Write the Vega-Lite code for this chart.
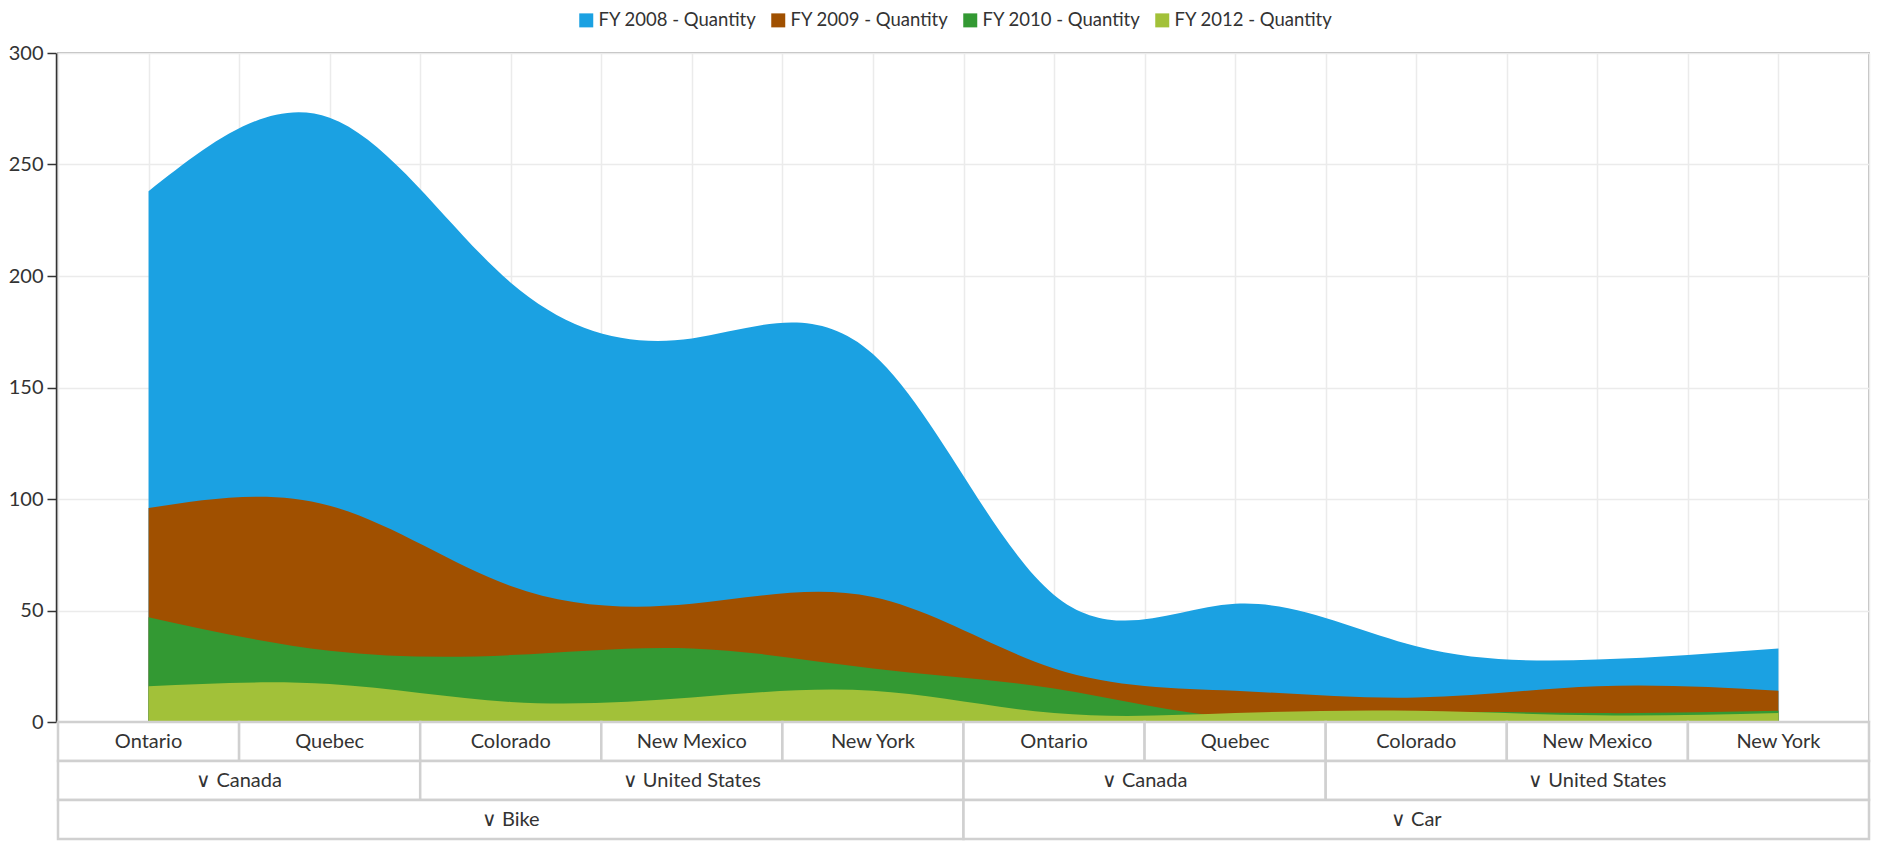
{
  "$schema": "https://vega.github.io/schema/vega-lite/v6.json",
  "padding": {"left": 7, "top": 11, "right": 13, "bottom": 10},
  "background": "white",
  "bounds": "flush",
  "config": {
    "font": "Lato",
    "view": {"stroke": "#bdbdbd", "strokeWidth": 2},
    "concat": {"spacing": 0}
  },
  "datasets": {
    "sales": [
      {"i": 0, "product": "Bike", "country": "Canada", "state": "Ontario", "series": "FY 2008 - Quantity", "qty": 238},
      {"i": 1, "product": "Bike", "country": "Canada", "state": "Quebec", "series": "FY 2008 - Quantity", "qty": 271},
      {"i": 2, "product": "Bike", "country": "United States", "state": "Colorado", "series": "FY 2008 - Quantity", "qty": 197},
      {"i": 3, "product": "Bike", "country": "United States", "state": "New Mexico", "series": "FY 2008 - Quantity", "qty": 172},
      {"i": 4, "product": "Bike", "country": "United States", "state": "New York", "series": "FY 2008 - Quantity", "qty": 165},
      {"i": 5, "product": "Car", "country": "Canada", "state": "Ontario", "series": "FY 2008 - Quantity", "qty": 57},
      {"i": 6, "product": "Car", "country": "Canada", "state": "Quebec", "series": "FY 2008 - Quantity", "qty": 53},
      {"i": 7, "product": "Car", "country": "United States", "state": "Colorado", "series": "FY 2008 - Quantity", "qty": 34},
      {"i": 8, "product": "Car", "country": "United States", "state": "New Mexico", "series": "FY 2008 - Quantity", "qty": 28},
      {"i": 9, "product": "Car", "country": "United States", "state": "New York", "series": "FY 2008 - Quantity", "qty": 33},
      {"i": 0, "product": "Bike", "country": "Canada", "state": "Ontario", "series": "FY 2009 - Quantity", "qty": 96},
      {"i": 1, "product": "Bike", "country": "Canada", "state": "Quebec", "series": "FY 2009 - Quantity", "qty": 97},
      {"i": 2, "product": "Bike", "country": "United States", "state": "Colorado", "series": "FY 2009 - Quantity", "qty": 61},
      {"i": 3, "product": "Bike", "country": "United States", "state": "New Mexico", "series": "FY 2009 - Quantity", "qty": 53},
      {"i": 4, "product": "Bike", "country": "United States", "state": "New York", "series": "FY 2009 - Quantity", "qty": 56},
      {"i": 5, "product": "Car", "country": "Canada", "state": "Ontario", "series": "FY 2009 - Quantity", "qty": 24},
      {"i": 6, "product": "Car", "country": "Canada", "state": "Quebec", "series": "FY 2009 - Quantity", "qty": 14},
      {"i": 7, "product": "Car", "country": "United States", "state": "Colorado", "series": "FY 2009 - Quantity", "qty": 11},
      {"i": 8, "product": "Car", "country": "United States", "state": "New Mexico", "series": "FY 2009 - Quantity", "qty": 16},
      {"i": 9, "product": "Car", "country": "United States", "state": "New York", "series": "FY 2009 - Quantity", "qty": 14},
      {"i": 0, "product": "Bike", "country": "Canada", "state": "Ontario", "series": "FY 2010 - Quantity", "qty": 47},
      {"i": 1, "product": "Bike", "country": "Canada", "state": "Quebec", "series": "FY 2010 - Quantity", "qty": 32},
      {"i": 2, "product": "Bike", "country": "United States", "state": "Colorado", "series": "FY 2010 - Quantity", "qty": 30},
      {"i": 3, "product": "Bike", "country": "United States", "state": "New Mexico", "series": "FY 2010 - Quantity", "qty": 33},
      {"i": 4, "product": "Bike", "country": "United States", "state": "New York", "series": "FY 2010 - Quantity", "qty": 24},
      {"i": 5, "product": "Car", "country": "Canada", "state": "Ontario", "series": "FY 2010 - Quantity", "qty": 15},
      {"i": 6, "product": "Car", "country": "Canada", "state": "Quebec", "series": "FY 2010 - Quantity", "qty": 2},
      {"i": 7, "product": "Car", "country": "United States", "state": "Colorado", "series": "FY 2010 - Quantity", "qty": 4},
      {"i": 8, "product": "Car", "country": "United States", "state": "New Mexico", "series": "FY 2010 - Quantity", "qty": 4},
      {"i": 9, "product": "Car", "country": "United States", "state": "New York", "series": "FY 2010 - Quantity", "qty": 5},
      {"i": 0, "product": "Bike", "country": "Canada", "state": "Ontario", "series": "FY 2012 - Quantity", "qty": 16},
      {"i": 1, "product": "Bike", "country": "Canada", "state": "Quebec", "series": "FY 2012 - Quantity", "qty": 17},
      {"i": 2, "product": "Bike", "country": "United States", "state": "Colorado", "series": "FY 2012 - Quantity", "qty": 9},
      {"i": 3, "product": "Bike", "country": "United States", "state": "New Mexico", "series": "FY 2012 - Quantity", "qty": 11},
      {"i": 4, "product": "Bike", "country": "United States", "state": "New York", "series": "FY 2012 - Quantity", "qty": 14},
      {"i": 5, "product": "Car", "country": "Canada", "state": "Ontario", "series": "FY 2012 - Quantity", "qty": 4},
      {"i": 6, "product": "Car", "country": "Canada", "state": "Quebec", "series": "FY 2012 - Quantity", "qty": 4},
      {"i": 7, "product": "Car", "country": "United States", "state": "Colorado", "series": "FY 2012 - Quantity", "qty": 5},
      {"i": 8, "product": "Car", "country": "United States", "state": "New Mexico", "series": "FY 2012 - Quantity", "qty": 3},
      {"i": 9, "product": "Car", "country": "United States", "state": "New York", "series": "FY 2012 - Quantity", "qty": 4}
    ],
    "headers": [
      {"level": 1, "label": "Ontario", "start": -0.5, "end": 0.5},
      {"level": 1, "label": "Quebec", "start": 0.5, "end": 1.5},
      {"level": 1, "label": "Colorado", "start": 1.5, "end": 2.5},
      {"level": 1, "label": "New Mexico", "start": 2.5, "end": 3.5},
      {"level": 1, "label": "New York", "start": 3.5, "end": 4.5},
      {"level": 1, "label": "Ontario", "start": 4.5, "end": 5.5},
      {"level": 1, "label": "Quebec", "start": 5.5, "end": 6.5},
      {"level": 1, "label": "Colorado", "start": 6.5, "end": 7.5},
      {"level": 1, "label": "New Mexico", "start": 7.5, "end": 8.5},
      {"level": 1, "label": "New York", "start": 8.5, "end": 9.5},
      {"level": 2, "label": "Canada", "start": -0.5, "end": 1.5},
      {"level": 2, "label": "United States", "start": 1.5, "end": 4.5},
      {"level": 2, "label": "Canada", "start": 4.5, "end": 6.5},
      {"level": 2, "label": "United States", "start": 6.5, "end": 9.5},
      {"level": 3, "label": "Bike", "start": -0.5, "end": 4.5},
      {"level": 3, "label": "Car", "start": 4.5, "end": 9.5}
    ]
  },
  "vconcat": [
    {
      "width": 1811,
      "height": 669,
      "data": {"name": "sales"},
      "mark": {"type": "area", "interpolate": "natural", "opacity": 1},
      "encoding": {
        "x": {
          "field": "i", "type": "quantitative",
          "scale": {"domain": [-0.5, 9.5], "nice": false, "zero": false},
          "axis": {
            "values": [-0.5, 0, 0.5, 1, 1.5, 2, 2.5, 3, 3.5, 4, 4.5, 5, 5.5, 6, 6.5, 7, 7.5, 8, 8.5, 9, 9.5],
            "labels": false, "ticks": false, "domain": false, "grid": true,
            "gridColor": "#ebebeb", "gridWidth": 1.5, "title": null,
            "minExtent": 0, "maxExtent": 0
          }
        },
        "y": {
          "field": "qty", "type": "quantitative", "stack": null,
          "scale": {"domain": [0, 300], "nice": false},
          "axis": {
            "values": [0, 50, 100, 150, 200, 250, 300],
            "title": null, "grid": true, "gridColor": "#ebebeb", "gridWidth": 1.5,
            "domainColor": "#333333", "domainWidth": 1.5,
            "tickColor": "#333333", "tickSize": 9, "tickWidth": 1.5,
            "labelPadding": 4, "labelFontSize": 20, "labelColor": "#333333",
            "offset": 2
          }
        },
        "color": {
          "field": "series", "type": "nominal",
          "scale": {
            "domain": ["FY 2008 - Quantity", "FY 2009 - Quantity", "FY 2010 - Quantity", "FY 2012 - Quantity"],
            "range": ["#1ba1e2", "#a05000", "#339933", "#a2c139"]
          },
          "legend": {
            "orient": "none", "direction": "horizontal", "columns": 4,
            "legendX": 519, "legendY": -42, "title": null,
            "symbolType": "square", "symbolSize": 196, "symbolStrokeWidth": 0,
            "labelFontSize": 18.5, "labelColor": "#333333", "labelOffset": 3,
            "labelLimit": 0, "columnPadding": 12
          }
        }
      }
    },
    {
      "width": 1811,
      "height": 117,
      "view": {"stroke": null},
      "data": {"name": "headers"},
      "transform": [
        {"calculate": "(datum.start + datum.end) / 2", "as": "mid"},
        {"calculate": "datum.level > 1 ? '∨  ' + datum.label : datum.label", "as": "shown"}
      ],
      "encoding": {
        "y": {"field": "level", "type": "ordinal", "axis": null, "scale": {"paddingInner": 0, "paddingOuter": 0}}
      },
      "layer": [
        {
          "mark": {"type": "rect", "fill": "white", "stroke": "#d0d0d0", "strokeWidth": 2.5},
          "encoding": {
            "x": {"field": "start", "type": "quantitative", "scale": {"domain": [-0.5, 9.5], "nice": false, "zero": false}, "axis": null},
            "x2": {"field": "end"}
          }
        },
        {
          "mark": {"type": "text", "fontSize": 20, "color": "#333333", "align": "center", "baseline": "middle"},
          "encoding": {
            "x": {"field": "mid", "type": "quantitative", "axis": null},
            "text": {"field": "shown"}
          }
        }
      ]
    }
  ]
}
